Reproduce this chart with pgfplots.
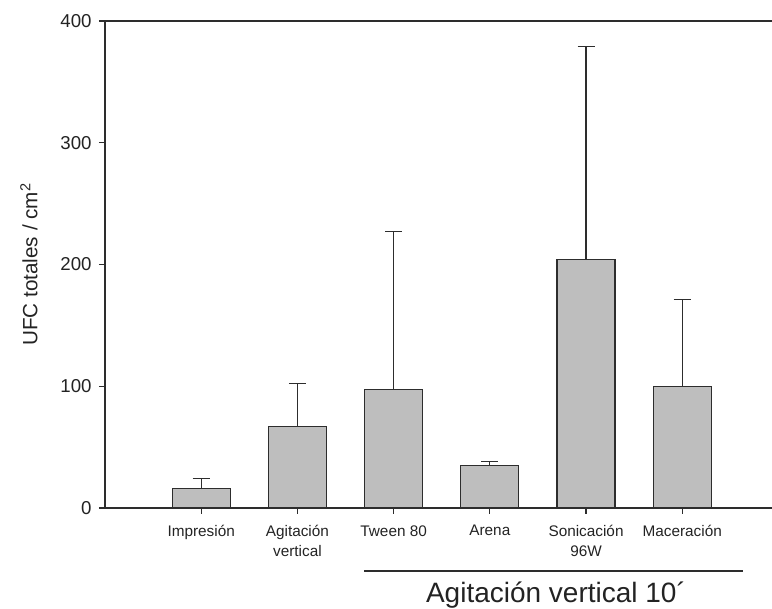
\documentclass[border=0pt]{standalone}
\usepackage{fontspec}
\setmainfont{Liberation Sans}
\usepackage{pgfplots}
\pgfplotsset{compat=1.18}
\definecolor{barfill}{RGB}{190,190,190}
\definecolor{edge}{RGB}{45,45,45}
\definecolor{txt}{RGB}{35,35,35}
\begin{document}
\begin{tikzpicture}
\useasboundingbox (0,0) rectangle (579pt,456.75pt);
\begin{axis}[
  at={(78.75pt,75.75pt)}, anchor=south west,
  scale only axis, width=500.25pt, height=365.25pt,
  xmin=0, xmax=6.933, ymin=0, ymax=400,
  axis x line=box, axis y line=left,
  axis line style={-, draw=edge, line width=1pt},
  tick pos=left, tick align=outside,
  major tick length=4.5pt,
  tick style={draw=edge, line width=0.9pt},
  xtick={1,2,3,4,5,6},
  xticklabels={Impresión, {Agitación\\vertical}, Tween 80, Arena, {Sonicación\\96W}, Maceración},
  xticklabel style={align=center, font=\fontsize{11.5}{15}\selectfont, text=txt, yshift=-5pt},
  ytick={0,100,200,300,400},
  yticklabel style={font=\fontsize{14}{16}\selectfont, text=txt, xshift=-2pt},
  /pgf/number format/assume math mode=true,
  ylabel={UFC totales / cm\textsuperscript{2}},
  ylabel style={at={(axis description cs:-0.114,0.5)}, anchor=center, rotate=0, font=\fontsize{15.5}{18}\selectfont, text=txt},
  clip=false,
]
\addplot[ybar, bar width=43.5pt, fill=barfill, draw=edge, line width=0.9pt,
  error bars/.cd, y dir=plus, y explicit,
  error bar style={line width=0.9pt, draw=edge},
  error mark options={rotate=90, mark size=6.4pt, line width=0.9pt, draw=edge}]
  coordinates {
  (1,16) +- (0,8)
  (2,67) +- (0,35)
  (3,97) +- (0,130)
  (4,35) +- (0,3)
  (5,204) +- (0,175)
  (6,100) +- (0,71)
  };
\end{axis}
\draw[edge, line width=0.9pt] (273pt,28.5pt) -- (557.25pt,28.5pt);
\node[anchor=base, inner sep=0pt, font=\fontsize{21}{24}\selectfont, text=txt] at (417pt,4.5pt) {Agitación vertical 10´};
\end{tikzpicture}
\end{document}
